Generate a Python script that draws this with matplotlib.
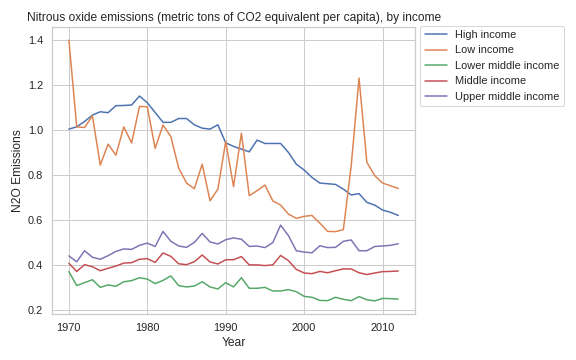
import matplotlib
matplotlib.use('Agg')
import matplotlib.pyplot as plt
import seaborn as sns

sns.set_theme(style='whitegrid')
plt.rcParams['font.family'] = ['Liberation Sans', 'DejaVu Sans']

years = list(range(1970, 2013))

high_income = [1.003, 1.013, 1.037, 1.065, 1.08, 1.076, 1.107, 1.108, 1.11, 1.15,
               1.12, 1.077, 1.033, 1.033, 1.05, 1.05, 1.022, 1.007, 1.003, 1.022,
               0.942, 0.926, 0.914, 0.902, 0.954, 0.939, 0.939, 0.939, 0.899, 0.847,
               0.821, 0.788, 0.763, 0.76, 0.757, 0.736, 0.71, 0.716, 0.677, 0.665,
               0.643, 0.633, 0.619]
low_income = [1.399, 1.013, 1.01, 1.062, 0.843, 0.936, 0.887, 1.013, 0.941, 1.104,
              1.102, 0.917, 1.021, 0.97, 0.83, 0.763, 0.738, 0.847, 0.684, 0.736,
              0.948, 0.747, 0.985, 0.707, 0.729, 0.754, 0.684, 0.665, 0.625, 0.606,
              0.615, 0.619, 0.585, 0.548, 0.547, 0.556, 0.84, 1.23, 0.855, 0.796,
              0.763, 0.751, 0.739]
lower_middle = [0.369, 0.307, 0.32, 0.333, 0.299, 0.31, 0.304, 0.324, 0.329, 0.342,
                0.336, 0.316, 0.33, 0.35, 0.307, 0.301, 0.305, 0.324, 0.301, 0.292,
                0.32, 0.301, 0.342, 0.295, 0.295, 0.299, 0.283, 0.283, 0.289, 0.28,
                0.259, 0.255, 0.241, 0.24, 0.255, 0.246, 0.24, 0.258, 0.244, 0.239,
                0.25, 0.249, 0.247]
middle_income = [0.406, 0.37, 0.4, 0.391, 0.373, 0.384, 0.394, 0.407, 0.409, 0.424,
                 0.427, 0.41, 0.452, 0.437, 0.404, 0.4, 0.413, 0.443, 0.412, 0.403,
                 0.422, 0.422, 0.436, 0.399, 0.399, 0.396, 0.399, 0.441, 0.418, 0.379,
                 0.363, 0.36, 0.37, 0.364, 0.373, 0.381, 0.381, 0.364, 0.356, 0.363,
                 0.369, 0.37, 0.372]
upper_middle = [0.439, 0.413, 0.462, 0.433, 0.424, 0.44, 0.459, 0.47, 0.468, 0.486,
                0.496, 0.481, 0.548, 0.504, 0.483, 0.477, 0.499, 0.539, 0.501, 0.492,
                0.511, 0.519, 0.513, 0.481, 0.483, 0.476, 0.498, 0.576, 0.529, 0.462,
                0.456, 0.453, 0.484, 0.476, 0.477, 0.504, 0.51, 0.462, 0.462, 0.481,
                0.483, 0.486, 0.493]

series = [('High income', high_income),
          ('Low income', low_income),
          ('Lower middle income', lower_middle),
          ('Middle income', middle_income),
          ('Upper middle income', upper_middle)]

fig = plt.figure(figsize=(8, 5), dpi=72)
ax = fig.add_axes([0.091, 0.128, 0.629, 0.797])

for name, vals in series:
    ax.plot(years, vals, label=name, linewidth=1.5)

ax.set_title('Nitrous oxide emissions (metric tons of CO2 equivalent per capita), by income')
ax.set_xlabel('Year')
ax.set_ylabel('N2O Emissions')
ax.legend(loc='upper left', bbox_to_anchor=(1.015, 1.005), borderaxespad=0)

fig.savefig('out.png', dpi=72)
